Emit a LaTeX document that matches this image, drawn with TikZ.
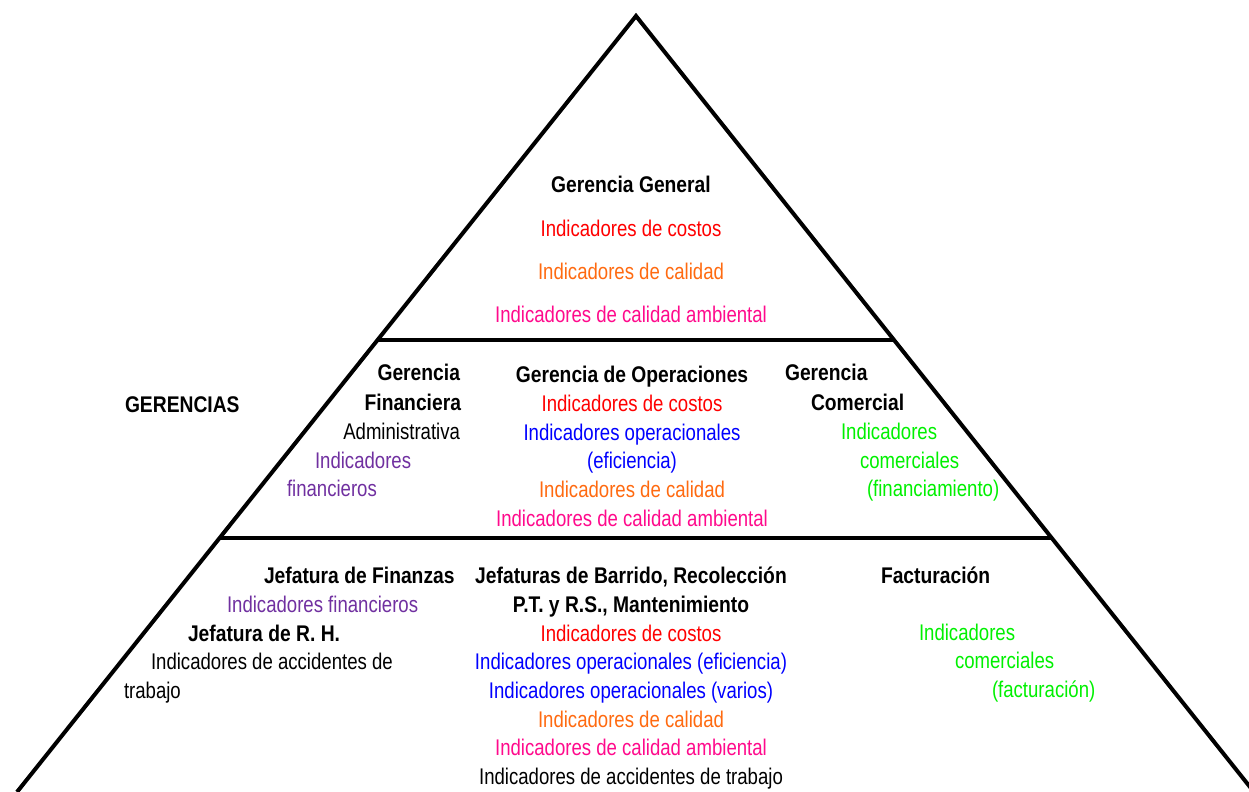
\documentclass[tikz,border=0pt]{standalone}
\usepackage{fontspec}
\setmainfont{Liberation Sans}[FakeStretch=0.82,BoldFeatures={FakeStretch=0.85}]
\usetikzlibrary{positioning}
\usetikzlibrary{calc}
\definecolor{colCostos}{HTML}{FF0000}
\definecolor{colCalidad}{HTML}{FF6A10}
\definecolor{colAmbiental}{HTML}{FF0A8C}
\definecolor{colOperac}{HTML}{0000FF}
\definecolor{colComerc}{HTML}{00F000}
\definecolor{colFinanc}{HTML}{7030A0}
\tikzset{
	costos/.style={text=colCostos},
	calidad/.style={text=colCalidad},
	ambiental/.style={text=colAmbiental},
	operac/.style={text=colOperac},
	comerc/.style={text=colComerc},
	financ/.style={text=colFinanc},
}
\begin{document}
\begin{tikzpicture}[x=0.75pt,y=-0.75pt,node distance=6pt,every node/.style={inner sep=0,outer sep=0,font=\fontsize{17}{20}\selectfont,text height=12pt,text depth=3.5pt},tit/.style={font=\fontsize{17}{20}\selectfont\bfseries}]
	\useasboundingbox (0,0) rectangle (1249,792);
	% piramide
	\coordinate (top) at (636,16);
	\coordinate (bl) at (17,792);
	\coordinate (br) at (1254,792);
	\draw[line width=3pt] (bl) -- (top) -- (br);
	\draw[line width=3pt] ($(top)!0.4175!(bl)$) -- ($(top)!0.4175!(br)$);
	\draw[line width=3pt] ($(top)!0.6727!(bl)$) -- ($(top)!0.6727!(br)$);
	% nivel superior
	\node[tit] (gg) at (631,187) {Gerencia General};
	\node (gg1) [costos, below=17pt of gg] {Indicadores de costos};
	\node (gg2) [calidad, below=17pt of gg1] {Indicadores de calidad};
	\node (gg3) [ambiental, below=17pt of gg2] {Indicadores de calidad ambiental};
	% gerencias
	\node[tit,anchor=west] (ger) at (125,407) {GERENCIAS};
	\node[tit,anchor=east] (gf) at (460,375) {Gerencia};
	\node[tit,anchor=east] (gf1) at (461,405) {Financiera};
	\node[anchor=east] (gf2) at (460,434) {Administrativa};
	\node[financ,anchor=west] (gf3) at (315,463) {Indicadores};
	\node[financ,anchor=west] (gf4) at (287,491) {financieros};
	\node[tit] (go) at (632,377) {Gerencia de Operaciones};
	\node (go1) [costos, below=of go] {Indicadores de costos};
	\node (go2) [operac, below=of go1] {Indicadores operacionales};
	\node (go3) [operac, below=of go2] {(eficiencia)};
	\node (go4) [calidad, below=of go3] {Indicadores de calidad};
	\node (go5) [ambiental, below=of go4] {Indicadores de calidad ambiental};
	\node[tit,anchor=west] (gc) at (785,375) {Gerencia};
	\node[tit,anchor=west] (gc1) at (811,405) {Comercial};
	\node[comerc,anchor=west] (gc2) at (841,434) {Indicadores};
	\node[comerc,anchor=west] (gc3) at (860,463) {comerciales};
	\node[comerc,anchor=west] (gc4) at (867,491) {(financiamiento)};
	% jefaturas
	\node[tit,anchor=west] (jf) at (264,578) {Jefatura de Finanzas};
	\node[financ,anchor=west] (jf1) at (227,607) {Indicadores financieros};
	\node[tit,anchor=west] (jr) at (188,636) {Jefatura de R. H.};
	\node[anchor=west] (jr1) at (151,664) {Indicadores de accidentes de};
	\node[anchor=west] (jr2) at (124,693) {trabajo};
	\node[tit] (jb) at (631,578) {Jefaturas de Barrido, Recolección};
	\node (jb1) [tit, below=of jb] {P.T. y R.S., Mantenimiento};
	\node (jb2) [costos, below=of jb1] {Indicadores de costos};
	\node (jb3) [operac, below=of jb2] {Indicadores operacionales (eficiencia)};
	\node (jb4) [operac, below=of jb3] {Indicadores operacionales (varios)};
	\node (jb5) [calidad, below=of jb4] {Indicadores de calidad};
	\node (jb6) [ambiental, below=of jb5] {Indicadores de calidad ambiental};
	\node (jb7) [below=of jb6] {Indicadores de accidentes de trabajo};
	\node[tit,anchor=west] (fa) at (881,578) {Facturación};
	\node[comerc,anchor=west] (fa1) at (919,635) {Indicadores};
	\node[comerc,anchor=west] (fa2) at (955,663) {comerciales};
	\node[comerc,anchor=west] (fa3) at (992,692) {(facturación)};
\end{tikzpicture}
\end{document}
